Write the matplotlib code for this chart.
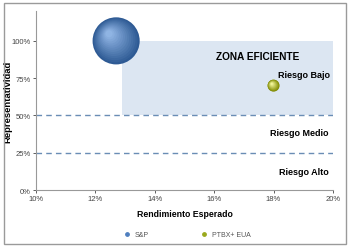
import matplotlib
matplotlib.use("Agg")
import matplotlib.pyplot as plt
from matplotlib.patches import Rectangle
from matplotlib.ticker import PercentFormatter
import numpy as np

plt.rcParams['font.family'] = ['Liberation Sans', 'DejaVu Sans']

series = ["S&P", "PTBX+ EUA"]
rendimiento = [0.127, 0.18]
representatividad = [1.00, 0.70]
bubble_size = [1150, 75]
colors_dark = ["#2e5a94", "#7f8a00"]
colors_light = ["#8fb4e3", "#f2f59a"]
legend_colors = ["#4f7fbf", "#9aa91c"]

xticks = [0.10, 0.12, 0.14, 0.16, 0.18, 0.20]
yticks = [0.0, 0.25, 0.50, 0.75, 1.00]
zone = (0.129, 0.50, 0.20, 1.00)
risk_lines = [0.50, 0.25]

fig = plt.figure(figsize=(3.49, 2.51), dpi=100)
fig.patches.append(Rectangle((0.012, 0.025), 0.978, 0.96, transform=fig.transFigure,
                             fill=False, edgecolor="#9a9a9a", linewidth=1.0))
ax = fig.add_axes([0.103, 0.239, 0.851, 0.713])

ax.add_patch(Rectangle((zone[0], zone[1]), zone[2] - zone[0], zone[3] - zone[1],
                       facecolor="#dce6f2", edgecolor="none", zorder=0))
for yl in risk_lines:
    ax.axhline(yl, color="#6a8db5", linestyle=(0, (4, 3)), linewidth=1.0, zorder=1)

# shaded spheres
for i in range(len(series)):
    n = 14
    for k in range(n):
        t = k / (n - 1)
        c0 = np.array(matplotlib.colors.to_rgb(colors_dark[i]))
        c1 = np.array(matplotlib.colors.to_rgb(colors_light[i]))
        c = c0 * (1 - t) + c1 * t
        s = bubble_size[i] * (1 - 0.85 * t) ** 2
        r = np.sqrt(bubble_size[i]) / 2
        off = 0.3 * r * t
        ax.scatter(rendimiento[i], representatividad[i], s=s, color=c, edgecolors="none", zorder=3 + k * 0.01,
                   transform=ax.transData + matplotlib.transforms.ScaledTranslation(-off / 72, off / 72, fig.dpi_scale_trans))

ax.text(0.1745, 0.90, "ZONA EFICIENTE", fontsize=7.3, fontweight="bold", ha="center", va="center")
ax.text(0.1815, 0.775, "Riesgo Bajo", fontsize=6.5, fontweight="bold", ha="left", va="center")
ax.text(0.1985, 0.385, "Riesgo Medio", fontsize=6.5, fontweight="bold", ha="right", va="center")
ax.text(0.1985, 0.125, "Riesgo Alto", fontsize=6.5, fontweight="bold", ha="right", va="center")

ax.set_xlim(0.10, 0.20)
ax.set_ylim(0, 1.2)
ax.set_xticks(xticks)
ax.set_yticks(yticks)
ax.xaxis.set_major_formatter(PercentFormatter(1.0, decimals=0))
ax.yaxis.set_major_formatter(PercentFormatter(1.0, decimals=0))
ax.tick_params(labelsize=5.5, colors="#444444", length=2, width=0.6, pad=1.5)
for sp in ["top", "right"]:
    ax.spines[sp].set_visible(False)
for sp in ["left", "bottom"]:
    ax.spines[sp].set_color("#999999")
    ax.spines[sp].set_linewidth(0.8)

ax.set_xlabel("Rendimiento Esperado", fontsize=6.3, fontweight="bold", labelpad=5)
ax.set_ylabel("Representatividad", fontsize=6.8, fontweight="bold")
ax.yaxis.set_label_coords(-0.078, 0.5)

handles = [ax.scatter([], [], s=6, color=legend_colors[i]) for i in range(len(series))]
fig.legend(handles, series, loc="center", bbox_to_anchor=(0.53, 0.063), ncol=2, frameon=False,
           fontsize=5, handletextpad=0.1, columnspacing=7, markerscale=1, labelcolor="#555555")

fig.savefig("out.png", dpi=100)
